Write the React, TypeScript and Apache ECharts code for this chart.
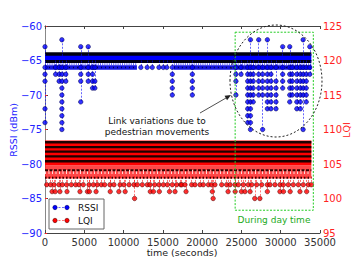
import React, { useEffect, useRef } from "react";
import * as echarts from "echarts";

// ---------- data ----------
const xMin = 0;
const xMax = 35000;
const xStep = 5000;
const rssiMin = -90;
const rssiMax = -60;
const lqiMin = 95;
const lqiMax = 125;
const dataEnd = 33900;

// RSSI: dense main band (samples alternating between these two levels)
const rssiMainLevels = [-64.05, -65.15];
// RSSI: -66 level, dense runs [from, to]
const rssiRow66Level = -66;
const rssiRow66Runs = [
  [0, 11700],
  [16400, 33900],
];
// RSSI: isolated -66 samples
const rssiSparse66 = [12200, 13000, 13650, 14500, 15050, 15500];
// RSSI: excursion columns (time, values)
const rssiColTimes = [
  0, 1350, 1800, 2150, 2650, 4550, 5500, 6050, 6350, 16200, 18750, 24300, 24950,
  25800, 26150, 26500, 27200, 27700, 28300, 28750, 29400, 30250, 31150, 31450,
  32050, 32500, 32850, 33250, 33700,
];
const rssiColValues = [
  [-63, -66, -67, -68, -72, -74],
  [-66, -67],
  [-66, -67, -68],
  [-62, -66, -67, -68, -69, -70, -71, -72, -73, -74, -75],
  [-66, -67, -68],
  [-63, -66, -67, -68, -71],
  [-63, -66, -67, -68],
  [-66, -67, -68, -69],
  [-66, -68, -69],
  [-66, -67, -68, -69, -70],
  [-66, -67, -68, -69, -70],
  [-66, -67, -68, -70],
  [-66, -67],
  [-66, -67, -68, -69, -70, -71, -72, -73, -74],
  [-62, -66, -67, -68, -69, -70, -71, -72, -73, -74, -75],
  [-66, -67, -68, -69, -70, -71],
  [-62, -66, -67, -68, -69, -70],
  [-66, -67, -68, -69, -70, -75],
  [-62, -66, -67, -68, -69, -70, -71, -72],
  [-66, -67, -68, -69, -70, -71, -72],
  [-66, -68, -69, -70, -71, -72],
  [-63, -66, -67, -68, -69],
  [-63, -66, -67, -68, -69, -70, -71],
  [-66, -67, -68, -69, -70],
  [-66, -67, -68, -69, -70, -71, -72],
  [-66, -67, -68, -69, -70, -71, -72],
  [-62, -66, -67, -68, -69, -70, -75],
  [-66, -67, -68, -69, -70, -71],
  [-63, -66, -67],
];

// LQI: dense band (stripe levels) and its extent
const lqiBandTop = 108.4;
const lqiBandBottom = 104.8;
const lqiStripeLevels = [108.15, 107.45, 106.8, 106.1, 105.4];
// LQI: lower, less dense rows
const lqiLowerTop = 104.8;
const lqiLowerBottom = 102.9;
const lqiLowerRows = [104.1, 103.0];
// LQI: isolated samples at 102, 101, 100
const lqiRow102 = [
  220, 720, 1150, 1780, 2200, 2750, 3350, 3900, 4330, 4870, 5600, 6150, 6650,
  7170, 7600, 8270, 8780, 9550, 10050, 10700, 11330, 11750, 12380, 13020, 13360,
  13960, 14510, 15060, 15570, 16200, 16760, 17270, 17400, 17820, 18670, 19090,
  19730, 20150, 20790, 21210, 21630, 22490, 23120, 23550, 24180, 24610, 25240,
  25870, 26310, 26940, 27580, 28290, 28640, 29270, 29910, 30330, 30960, 31600,
  32240, 32870, 33510, 33900,
];
const lqiRow101 = [
  900, 1300, 1900, 2800, 4450, 5400, 5650, 6500, 8300, 9400, 10200, 13400, 13800,
  14550, 15850, 16550, 17950, 21300, 23300, 24200, 25000, 25450, 26100, 28300,
  29900, 30350, 31200, 32450, 33300,
];
const lqiRow100 = [11400, 21400, 26700, 27350];

// annotation box ("During day time"), in data units of time / RSSI
const dayBox = [
  [24200, -60.9],
  [34150, -86.7],
];

// ---------- helpers ----------
const FONT = "DejaVu Sans";
const minus = (v: number) => String(v).replace("-", "\u2212");
const hline = (level: number, from: number, to: number) => [
  [from, level],
  [to, level],
];

export default function App() {
  const ref = useRef<HTMLDivElement>(null);

  useEffect(() => {
    document.body.style.margin = "0";
    if (!ref.current) return;
    const chart = echarts.init(ref.current, undefined, { renderer: "svg" });

    // RSSI connectors & dots
    const rssiLines: any[] = [];
    const rssiDots: number[][] = [];
    rssiColTimes.forEach((t, i) => {
      const vals = rssiColValues[i];
      const hi = Math.max(...vals, -64.5);
      const lo = Math.min(...vals, -64.5);
      rssiLines.push({ coords: [[t, hi], [t, lo]] });
      vals.forEach((v) => rssiDots.push([t, v]));
    });
    rssiSparse66.forEach((t) => {
      rssiLines.push({ coords: [[t, -65], [t, rssiRow66Level]] });
      rssiDots.push([t, rssiRow66Level]);
    });

    // LQI connectors & dots
    const lqiLines: any[] = [];
    const lqiDots: number[][] = [];
    const addLqi = (arr: number[], v: number) =>
      arr.forEach((t) => {
        lqiLines.push({ coords: [[t, lqiLowerBottom + 0.3], [t, v]] });
        lqiDots.push([t, v]);
      });
    addLqi(lqiRow102, 102);
    addLqi(lqiRow101, 101);
    addLqi(lqiRow100, 100);

    const series: any[] = [];

    // ---- LQI band ----
    series.push({
      type: "line",
      yAxisIndex: 1,
      data: hline(lqiStripeLevels[0], 0, dataEnd),
      showSymbol: false,
      lineStyle: { color: "#1e0000", width: 2.3 },
      z: 3,
      markArea: {
        silent: true,
        z: 2,
        data: [
          [
            { coord: [0, lqiBandTop], itemStyle: { color: "#ff0000" } },
            { coord: [dataEnd, lqiBandBottom] },
          ],
          [
            { coord: [0, lqiLowerTop], itemStyle: { color: "rgba(255,30,30,0.82)" } },
            { coord: [dataEnd, lqiLowerBottom] },
          ],
        ],
      },
    });
    lqiStripeLevels.slice(1).forEach((l) =>
      series.push({
        type: "line",
        yAxisIndex: 1,
        data: hline(l, 0, dataEnd),
        showSymbol: false,
        lineStyle: { color: "#1e0000", width: 2.3 },
        z: 3,
      })
    );
    series.push({
      type: "line",
      yAxisIndex: 1,
      data: hline((lqiLowerTop + lqiLowerBottom) / 2, 0, dataEnd),
      showSymbol: false,
      lineStyle: { color: "rgba(255,255,255,0.8)", width: 4, type: [1, 2.5] },
      z: 3,
    });
    lqiLowerRows.forEach((l, i) =>
      series.push({
        type: "line",
        yAxisIndex: 1,
        data: hline(l, 0, dataEnd),
        showSymbol: false,
        lineStyle: {
          color: "#3a0000",
          width: 2,
          type: i === 0 ? [3, 1.5] : [1.5, 2],
        },
        z: 4,
      })
    );
    series.push({
      type: "lines",
      coordinateSystem: "cartesian2d",
      yAxisIndex: 1,
      data: lqiLines,
      lineStyle: { color: "rgba(255,0,0,0.55)", width: 1, type: [2, 1.5], opacity: 1 },
      z: 4,
    });
    series.push({
      type: "scatter",
      yAxisIndex: 1,
      data: lqiDots,
      symbolSize: 4.5,
      itemStyle: { color: "#ff0000", borderColor: "#3a0000", borderWidth: 0.6 },
      z: 5,
    });

    // ---- RSSI band ----
    series.push({
      type: "line",
      yAxisIndex: 0,
      data: hline(rssiMainLevels[0], 0, dataEnd),
      showSymbol: false,
      lineStyle: { color: "#000010", width: 3.4 },
      z: 6,
      markArea: {
        silent: true,
        z: 5,
        data: [
          [
            { coord: [0, rssiMainLevels[0]], itemStyle: { color: "#0000ff" } },
            { coord: [dataEnd, rssiMainLevels[1]] },
          ],
        ],
      },
    });
    series.push({
      type: "line",
      yAxisIndex: 0,
      data: hline(rssiMainLevels[1], 0, dataEnd),
      showSymbol: false,
      lineStyle: { color: "#000010", width: 3 },
      z: 6,
    });
    rssiRow66Runs.forEach(([a, b]) => {
      series.push({
        type: "line",
        yAxisIndex: 0,
        data: hline(-65.55, a, b),
        showSymbol: false,
        lineStyle: { color: "#5a5aff", width: 2, type: [1, 1.2] },
        z: 6,
      });
      series.push({
        type: "line",
        yAxisIndex: 0,
        data: hline(rssiRow66Level, a, b),
        showSymbol: false,
        lineStyle: { color: "#1515e0", width: 4.5 },
        z: 6,
      });
      series.push({
        type: "line",
        yAxisIndex: 0,
        data: hline(rssiRow66Level, a, b),
        showSymbol: false,
        lineStyle: { color: "#000050", width: 1.5, type: [1, 3] },
        z: 7,
      });
    });
    series.push({
      type: "lines",
      coordinateSystem: "cartesian2d",
      yAxisIndex: 0,
      data: rssiLines,
      lineStyle: { color: "rgba(0,0,255,0.6)", width: 1, type: [2, 1.5], opacity: 1 },
      z: 7,
    });
    series.push({
      type: "scatter",
      yAxisIndex: 0,
      data: rssiDots,
      symbolSize: 4.5,
      itemStyle: { color: "#0000ff", borderColor: "#000040", borderWidth: 0.6 },
      z: 8,
    });

    // ---- day box (green dashed) ----
    series.push({
      type: "line",
      yAxisIndex: 0,
      data: [],
      markArea: {
        silent: true,
        z: 20,
        itemStyle: {
          color: "rgba(0,0,0,0)",
          borderColor: "#22cc22",
          borderWidth: 1,
          borderType: [2, 1.5],
        },
        data: [[{ coord: dayBox[0] }, { coord: dayBox[1] }]],
      },
      z: 20,
    });

    const tickStyle = { color: "#333", fontSize: 10, fontFamily: FONT };
    const txt = (
      text: string,
      x: number,
      y: number,
      fill: string,
      size: number,
      rotation = 0,
      align = "center"
    ) => ({
      type: "text",
      x,
      y,
      rotation,
      style: { text, fill, font: `${size}px "${FONT}"`, align, verticalAlign: "middle" },
      z: 42,
    });

    chart.setOption({
      animation: false,
      grid: {
        left: 45,
        right: 35,
        top: 26,
        bottom: 28,
        containLabel: false,
        outerBoundsMode: "none",
      },
      xAxis: [
        {
          type: "value",
          min: xMin,
          max: xMax,
          interval: xStep,
          position: "bottom",
          axisLine: { show: true, lineStyle: { color: "#444", width: 1 } },
          axisTick: { show: true, inside: true, length: 3, lineStyle: { color: "#444" } },
          axisLabel: { ...tickStyle, margin: 4, formatter: (v: number) => String(v) },
          splitLine: { show: false },
        },
        {
          type: "value",
          min: xMin,
          max: xMax,
          interval: xStep,
          position: "top",
          axisLine: { show: true, lineStyle: { color: "#444", width: 1 } },
          axisTick: { show: true, inside: true, length: 3, lineStyle: { color: "#444" } },
          axisLabel: { show: false },
          splitLine: { show: false },
        },
      ],
      yAxis: [
        {
          type: "value",
          min: rssiMin,
          max: rssiMax,
          interval: 5,
          position: "left",
          axisLine: { show: true, lineStyle: { color: "#444", width: 1 } },
          axisTick: { show: true, inside: true, length: 3, lineStyle: { color: "#444" } },
          axisLabel: {
            color: "#2222ff",
            fontSize: 10,
            fontFamily: FONT,
            margin: 3,
            formatter: (v: number) => minus(v),
          },
          splitLine: { show: false },
        },
        {
          type: "value",
          min: lqiMin,
          max: lqiMax,
          interval: 5,
          position: "right",
          axisLine: { show: true, lineStyle: { color: "#888", width: 1 } },
          axisTick: { show: true, inside: false, length: 2, lineStyle: { color: "#ff2222" } },
          axisLabel: {
            color: "#ff2222",
            fontSize: 10,
            fontFamily: FONT,
            margin: 3,
          },
          splitLine: { show: false },
        },
      ],
      series,
      graphic: [
        // axis titles
        txt("time (seconds)", 182, 252, "#222", 9.5),
        txt("RSSI (dBm)", 13, 130, "#2222ff", 9.5, Math.PI / 2),
        txt("LQI", 346, 130, "#ff2222", 9.5, Math.PI / 2),
        {
          type: "ellipse",
          shape: { cx: 276, cy: 81, rx: 46, ry: 56 },
          style: { fill: "none", stroke: "#222", lineWidth: 1, lineDash: [2, 2] },
          z: 30,
          silent: true,
        },
        txt("Link variations due to", 157, 121, "#111", 9),
        txt("pedestrian movements", 157, 132, "#111", 9),
        {
          type: "line",
          shape: { x1: 200, y1: 113, x2: 226, y2: 98 },
          style: { stroke: "#222", lineWidth: 0.8 },
          z: 30,
        },
        {
          type: "polygon",
          shape: { points: [[231, 95], [227.05, 100.16], [224.55, 95.84]] },
          style: { fill: "#222" },
          z: 30,
        },
        txt("During day time", 274, 220, "#22aa22", 9),
        // legend
        {
          type: "rect",
          shape: { x: 49, y: 199, width: 55, height: 30 },
          style: { fill: "#fff", stroke: "#666", lineWidth: 1 },
          z: 40,
        },
        {
          type: "line",
          shape: { x1: 55, y1: 207.5, x2: 67, y2: 207.5 },
          style: { stroke: "rgba(0,0,255,0.6)", lineWidth: 1, lineDash: [2, 1.5] },
          z: 41,
        },
        {
          type: "circle",
          shape: { cx: 55, cy: 207.5, r: 2.2 },
          style: { fill: "#0000ff", stroke: "#000040", lineWidth: 0.5 },
          z: 42,
        },
        {
          type: "circle",
          shape: { cx: 67, cy: 207.5, r: 2.2 },
          style: { fill: "#0000ff", stroke: "#000040", lineWidth: 0.5 },
          z: 42,
        },
        txt("RSSI", 78, 208, "#111", 9, 0, "left"),
        {
          type: "line",
          shape: { x1: 55, y1: 220.5, x2: 67, y2: 220.5 },
          style: { stroke: "rgba(255,0,0,0.55)", lineWidth: 1, lineDash: [2, 1.5] },
          z: 41,
        },
        {
          type: "circle",
          shape: { cx: 55, cy: 220.5, r: 2.2 },
          style: { fill: "#ff0000", stroke: "#3a0000", lineWidth: 0.5 },
          z: 42,
        },
        {
          type: "circle",
          shape: { cx: 67, cy: 220.5, r: 2.2 },
          style: { fill: "#ff0000", stroke: "#3a0000", lineWidth: 0.5 },
          z: 42,
        },
        txt("LQI", 78, 221, "#111", 9, 0, "left"),
      ],
    });

    return () => chart.dispose();
  }, []);

  return <div ref={ref} style={{ width: 355, height: 261 }} />;
}
